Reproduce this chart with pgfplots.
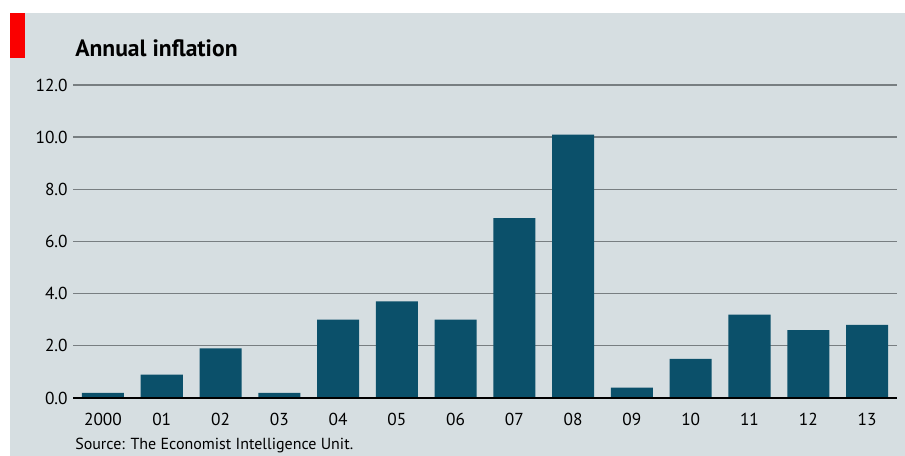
\documentclass[border=0pt]{standalone}
\usepackage{pgfplots}
\pgfplotsset{compat=1.18}
\usepackage{fontspec}
\setmainfont{PT Sans}
\definecolor{bgc}{RGB}{214,222,225}
\definecolor{barc}{RGB}{11,80,106}
\definecolor{gridc}{RGB}{120,126,129}
\definecolor{redc}{RGB}{250,0,0}
\begin{document}
\begin{tikzpicture}[x=0.75pt,y=0.75pt]
\path[use as bounding box] (0,0) rectangle (905,456);
\fill[white] (0,0) rectangle (905,456);
\fill[bgc] (10,0) rectangle (905,443);
\fill[redc] (10,398) rectangle (25,443);
\node[anchor=base west, inner sep=0pt, font=\bfseries\fontsize{17.7pt}{20pt}\selectfont] at (75,399) {Annual inflation};
\node[anchor=base west, inner sep=0pt, font=\fontsize{12pt}{14pt}\selectfont] at (75,6) {Source: The Economist Intelligence Unit.};
\begin{axis}[
  at={(54.75pt,43.5pt)}, anchor=south west,
  scale only axis, width=618pt, height=234.75pt,
  xmin=-0.51, xmax=13.51, ymin=0, ymax=12,
  axis line style={draw=none},
  major tick length=0pt,
  ytick={0,2,4,6,8,10,12},
  ymajorgrids,
  grid style={color=gridc, line width=1pt},
  xtick={0,...,13},
  xticklabels={2000,01,02,03,04,05,06,07,08,09,10,11,12,13},
  ticklabel style={font=\fontsize{13pt}{15pt}\selectfont},
  xticklabel style={yshift=-8pt},
  yticklabel style={xshift=-0.5pt, /pgf/number format/.cd, fixed, fixed zerofill, precision=1},
  /pgf/number format/assume math mode=true,
  clip=false,
]
\addplot[ybar, bar width=0.715, fill=barc, draw=none] coordinates {
(0,0.2) (1,0.9) (2,1.9) (3,0.2) (4,3.0) (5,3.7) (6,3.0) (7,6.9) (8,10.1) (9,0.4) (10,1.5) (11,3.2) (12,2.6) (13,2.8)};
\draw[black, line width=1.6pt] (axis cs:-0.51,0) -- (axis cs:13.51,0);
\end{axis}
\end{tikzpicture}
\end{document}
